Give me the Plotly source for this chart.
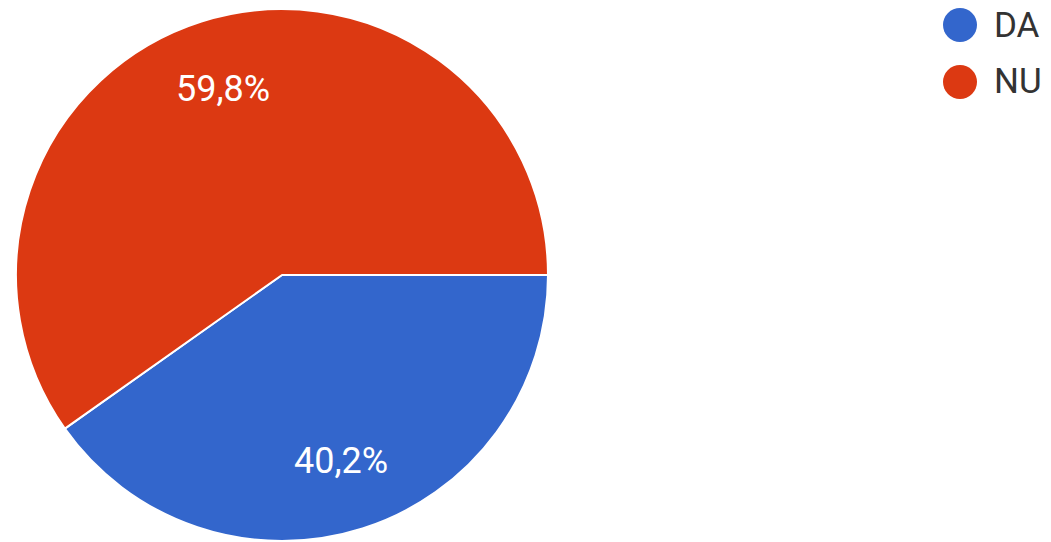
import math
import plotly.graph_objects as go

labels = ["DA", "NU"]
values = [40.2, 59.8]
colors = ["#3366CC", "#DC3912"]

W, H = 1051, 542

# pie geometry (page pixels)
cx, cy, r = 282, 275, 266

def px_x(x):
    return x / W

def px_y(y):
    return 1 - y / H

fig = go.Figure()
fig.add_trace(go.Pie(
    labels=labels,
    values=values,
    sort=False,
    direction="clockwise",
    rotation=90,
    marker=dict(colors=colors, line=dict(color="white", width=2)),
    textinfo="none",
    showlegend=False,
    hoverinfo="label+percent",
    domain=dict(x=[px_x(cx - r), px_x(cx + r)], y=[max(0, px_y(cy + r)), px_y(cy - r)]),
))

shapes = []
annotations = []

# percentage labels placed along each slice's mid angle
total = sum(values)
start = 90.0
for lab, val in zip(labels, values):
    span = 360.0 * val / total
    mid = math.radians(start + span / 2)
    lx = cx + 0.735 * r * math.sin(mid)
    ly = cy - 0.735 * r * math.cos(mid)
    pct = f"{100 * val / total:.1f}%".replace(".", ",")
    annotations.append(dict(
        text=pct, xref="paper", yref="paper",
        x=px_x(lx), y=px_y(ly), xanchor="center", yanchor="middle",
        showarrow=False, font=dict(size=36, color="white", family="Roboto"),
    ))
    start += span

# legend drawn as circles + labels
leg_cx, leg_r = 960, 17
leg_y = [25, 82]
for i, (lab, col) in enumerate(zip(labels, colors)):
    ly = leg_y[i]
    shapes.append(dict(
        type="circle", xref="paper", yref="paper",
        x0=px_x(leg_cx - leg_r), x1=px_x(leg_cx + leg_r),
        y0=px_y(ly + leg_r), y1=px_y(ly - leg_r),
        fillcolor=col, line=dict(width=0),
    ))
    annotations.append(dict(
        text=lab, xref="paper", yref="paper",
        x=px_x(992), y=px_y(ly), xanchor="left", yanchor="middle",
        showarrow=False, font=dict(size=35, color="#333333", family="Roboto"),
    ))

fig.update_layout(
    width=W, height=H,
    margin=dict(l=0, r=0, t=0, b=0),
    paper_bgcolor="white",
    plot_bgcolor="white",
    separators=",.",
    shapes=shapes,
    annotations=annotations,
)

fig.write_html(
    "out.html",
    config={"displayModeBar": False},
    post_script="document.body.style.margin='0';document.body.style.overflow='hidden';",
)
